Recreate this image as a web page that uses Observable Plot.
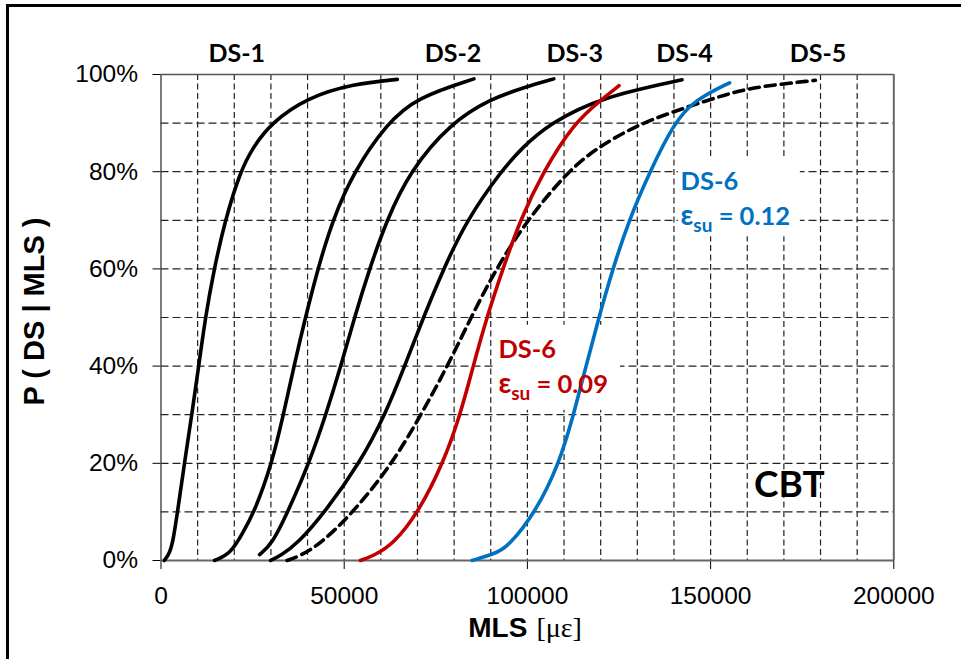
<!DOCTYPE html>
<html><head><meta charset="utf-8">
<script src="https://cdn.jsdelivr.net/npm/d3@7"></script>
<script src="https://cdn.jsdelivr.net/npm/@observablehq/plot@0.6"></script>
<style>
html,body{margin:0;padding:0;background:#fff;overflow:hidden}
#wrap{position:relative;width:961px;height:659px}
#frame{position:absolute;left:6px;top:4px;right:-10px;bottom:-10px;border-top:3px solid #000;border-left:3px solid #000;pointer-events:none}
</style></head><body>
<div id="wrap"><div id="chart"></div><div id="frame"></div></div>
<script>
// ---- data (MLS in microstrain, P in %) ----
const ds1MLS = [900, 2300, 3300, 4500, 6400, 8400, 10300, 12100, 14500, 17500, 21600, 25100, 30000, 40000, 52600, 64500];
const ds1P   = [0, 1.4, 4, 10, 20, 30, 40, 50, 60, 70, 80, 85, 90, 95.3, 98.1, 99.0];
const ds2MLS = [14600, 19000, 22200, 25500, 30300, 33400, 36300, 39400, 42800, 46800, 52600, 61700, 69900, 85400];
const ds2P   = [0, 1.4, 5.5, 10, 20, 30, 40, 50, 60, 70, 80, 90, 95.3, 99.1];
const ds3MLS = [26900, 30300, 34600, 40400, 45000, 49100, 52800, 56900, 61600, 67800, 79000, 90000, 99000, 107200];
const ds3P   = [1.2, 3.4, 10, 20, 30, 40, 50, 60, 70, 80, 90, 95, 97.3, 99.1];
const ds4MLS = [29900, 32600, 37200, 44800, 54200, 61200, 66500, 71600, 77100, 83400, 92700, 98600, 106300, 120000, 142200];
const ds4P   = [0, 1, 3.4, 10, 20, 30, 40, 50, 60, 70, 80, 85, 90, 95.3, 98.9];
const ds5MLS = [34400, 38100, 43500, 52600, 63200, 71000, 78200, 84600, 91400, 99900, 110900, 119100, 130900, 143600, 154500, 162700, 178600];
const ds5P   = [0, 1, 3.4, 10, 20, 30, 40, 50, 60, 70, 80, 85, 90, 93.3, 96, 97.5, 98.8];
const ds6aMLS = [54400, 58100, 63500, 70300, 77000, 81700, 85200, 88900, 93300, 98000, 104300, 112700, 120000, 125000];
const ds6aP   = [0, 1, 3.4, 10, 20, 30, 40, 50, 60, 70, 80, 90, 94.7, 97.7];
const ds6bMLS = [84900, 91000, 94600, 102300, 108700, 112600, 116000, 119500, 123300, 127700, 133400, 140000, 145500, 155200];
const ds6bP   = [0, 1.4, 2.7, 10, 20, 30, 40, 50, 60, 70, 80, 90, 94.7, 98.3];

const seriesNames = ["DS-1", "DS-2", "DS-3", "DS-4", "DS-5", "DS-6 εsu=0.09", "DS-6 εsu=0.12"];
const seriesMLS = [ds1MLS, ds2MLS, ds3MLS, ds4MLS, ds5MLS, ds6aMLS, ds6bMLS];
const seriesP   = [ds1P, ds2P, ds3P, ds4P, ds5P, ds6aP, ds6bP];
const seriesColor = ["#000", "#000", "#000", "#000", "#000", "#C00000", "#0070C0"];
const seriesDash  = [null, null, null, null, "10,6", null, null];

const xTicks = [0, 50000, 100000, 150000, 200000];
const yTicks = [0, 20, 40, 60, 80, 100];
const gridMLS = [10000,20000,30000,40000,50000,60000,70000,80000,90000,100000,110000,120000,130000,140000,150000,160000,170000,180000,190000];
const gridP = [10, 20, 30, 40, 50, 60, 70, 80, 90];

const topLabels = ["DS-1", "DS-2", "DS-3", "DS-4", "DS-5"];
const topLabelMLS = [20700, 79700, 112900, 142900, 179300];
const topLabelP = [102.5, 102.5, 102.5, 102.5, 102.5];

const ds6Labels = ["DS-6", "εsu = 0.09", "DS-6", "εsu = 0.12"];
const ds6LabelMLS = [92100, 92100, 141800, 141800];
const ds6LabelP = [41.6, 34.4, 76.3, 69.1];
const ds6LabelColor = ["#C00000", "#C00000", "#0070C0", "#0070C0"];
// white boxes behind the DS-6 labels (data units)
const boxMLS1 = [91300, 141200], boxMLS2 = [125400, 174500];
const boxP1 = [30.9, 66.6], boxP2 = [48.4, 82.9];

const rows = seriesNames.flatMap((name, k) => seriesMLS[k].map((m, i) => ({series: name, mls: m, p: seriesP[k][i]})));

const marks = [
  Plot.ruleX(gridMLS, {stroke: "#222", strokeWidth: 1.2, strokeDasharray: "6,3.5"}),
  Plot.ruleY(gridP, {stroke: "#222", strokeWidth: 1.2, strokeDasharray: "8,4"}),
  Plot.rect(boxMLS1.map((d, i) => i), {x1: i => boxMLS1[i], x2: i => boxMLS2[i], y1: i => boxP1[i], y2: i => boxP2[i], fill: "white"}),
  Plot.ruleY([100], {stroke: "#555", strokeWidth: 1.6}),
  Plot.ruleX([200000], {stroke: "#666", strokeWidth: 2, y1: 0, y2: 100}),
  Plot.ruleX([0], {stroke: "#444", strokeWidth: 1.4, y1: 0, y2: 100}),
  Plot.ruleY([0], {stroke: "#666", strokeWidth: 2.2}),
];
seriesNames.forEach((name, k) => {
  marks.push(Plot.line(rows.filter(r => r.series === name), {
    x: "mls", y: "p", stroke: seriesColor[k], strokeWidth: 3.6,
    strokeDasharray: seriesDash[k] || undefined, curve: "basis"
  }));
});
marks.push(
  Plot.text(topLabels, {x: (d, i) => topLabelMLS[i], y: (d, i) => topLabelP[i], text: d => d,
    lineAnchor: "bottom", fontFamily: "Lato", fontWeight: "bold", fontSize: 25, fill: "#000"}),
  Plot.text(ds6Labels, {x: (d, i) => ds6LabelMLS[i], y: (d, i) => ds6LabelP[i], text: d => d,
    textAnchor: "start", lineAnchor: "bottom", fontFamily: "Lato", fontWeight: "bold", fontSize: 25.5,
    fill: (d, i) => ds6LabelColor[i]}),
  Plot.text(["CBT"], {x: 171500, y: 13.0, text: d => d, lineAnchor: "bottom",
    fontFamily: "Lato", fontWeight: "bold", fontSize: 37, fill: "#000"}),
  Plot.text(["P ( DS | MLS )"], {frameAnchor: "left", textAnchor: "middle", rotate: -90, dx: -126.5, dy: -6, text: d => d,
    fontFamily: "Liberation Sans", fontWeight: "bold", fontSize: 29, fill: "#000"}),
  Plot.text(["MLS"], {frameAnchor: "bottom", textAnchor: "end", lineAnchor: "bottom", dy: 76, text: d => d,
    fontFamily: "Liberation Sans", fontWeight: "bold", fontSize: 28, fill: "#000"}),
  Plot.text(["[με]"], {frameAnchor: "bottom", textAnchor: "start", lineAnchor: "bottom", dx: 9, dy: 76, text: d => d,
    fontFamily: "Liberation Serif", fontSize: 28, fill: "#000"})
);

const svg = Plot.plot({
  width: 961, height: 659,
  marginLeft: 160.5, marginRight: 67.7, marginTop: 74, marginBottom: 99,
  style: {fontFamily: "Liberation Sans", fontSize: "24.5px", color: "#000", background: "white"},
  x: {domain: [0, 200000], ticks: xTicks, tickFormat: d => String(d), tickSize: 9, tickPadding: 17, label: null},
  y: {domain: [0, 100], ticks: yTicks, tickFormat: d => d + "%", tickSize: 8, tickPadding: 15, label: null},
  marks
});
document.getElementById("chart").appendChild(svg);

// subscript "su" in the ε labels
d3.select(svg).selectAll("text").filter(function () { return this.textContent.startsWith("εsu"); }).each(function () {
  const rest = this.textContent.slice(3);
  const t = d3.select(this);
  t.text(null);
  t.append("tspan").attr("font-size", "28px").text("ε");
  t.append("tspan").attr("font-size", "19px").attr("dy", "7").text("su");
  t.append("tspan").attr("dy", "-7").text(rest);
});
</script>
</body></html>
